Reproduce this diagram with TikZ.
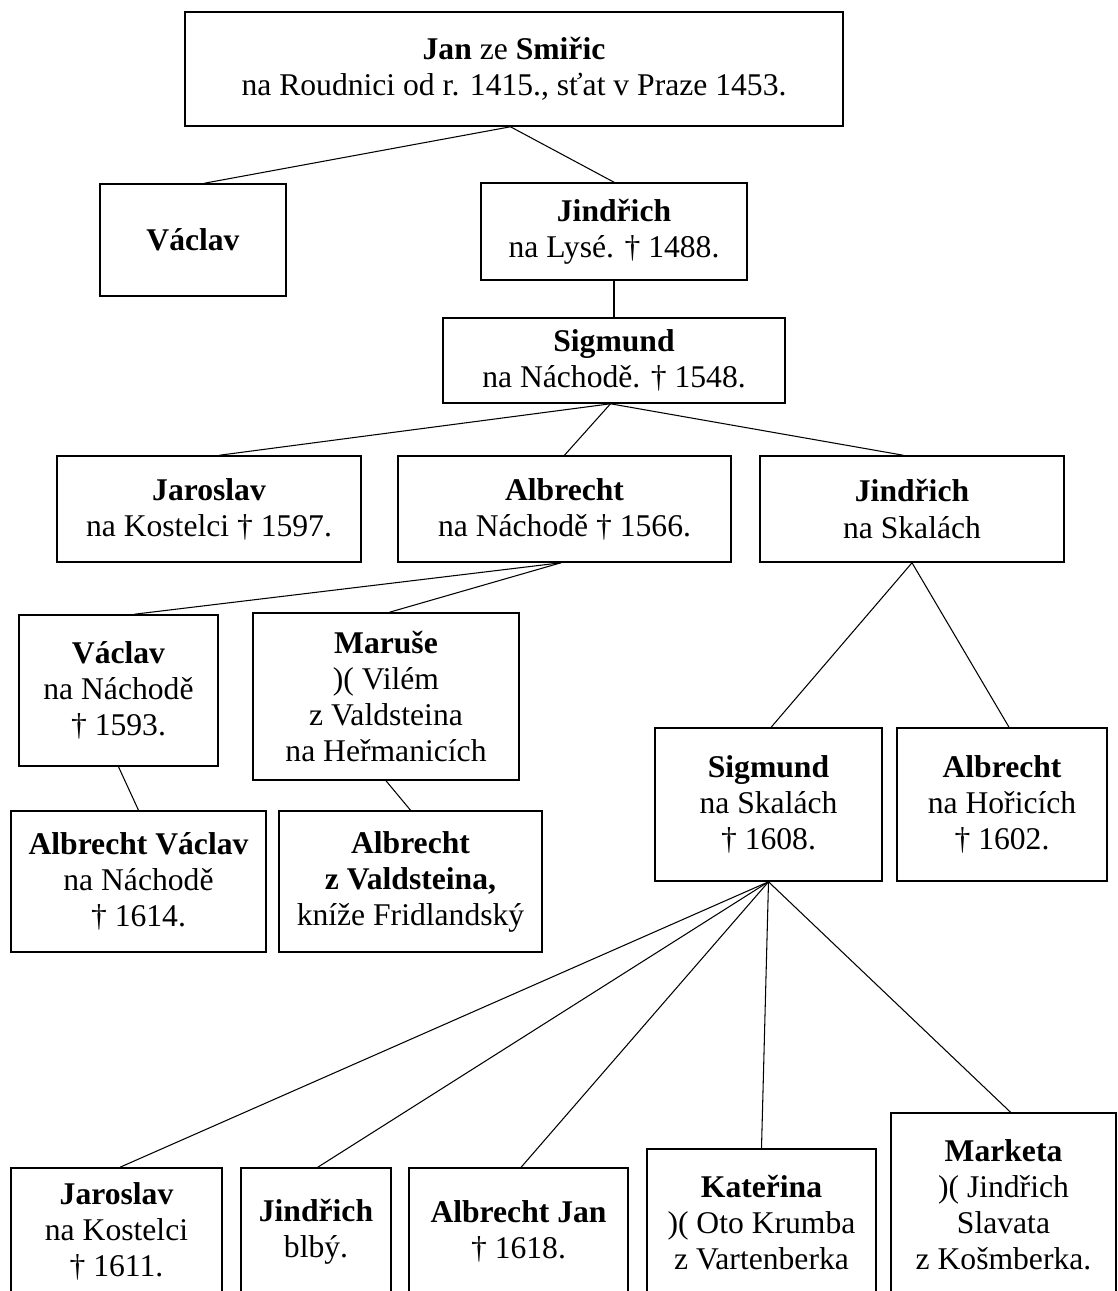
\documentclass[tikz,border=0pt]{standalone}
\usepackage{fontspec}
\setmainfont{Liberation Serif}
\tikzset{
  person/.style={draw, line width=0.9pt, align=center, inner sep=0pt,
    font=\fontsize{18}{20.5}\selectfont},
  kin/.style={line width=0.6pt}
}
\begin{document}
\begin{tikzpicture}[x=0.02cm, y=-0.02cm]
  \useasboundingbox (0,0) rectangle (1118,1291);
  \clip (0,0) rectangle (1118,1291);
  %%gen 1
  \node[person, minimum width=13.16cm, minimum height=2.28cm] (jan) at (514,69)
    {\textbf{Jan} ze \textbf{Smiřic}\\na Roudnici od r. 1415., sťat v Praze 1453.};
  %%gen 2
  \node[person, minimum width=3.72cm, minimum height=2.24cm] (vaclav) at (193,240)
    {\textbf{Václav}};
  \node[person, minimum width=5.32cm, minimum height=1.94cm] (jindrich) at (614,231.5)
    {\textbf{Jindřich}\\na Lysé. † 1488.};
  %%gen 3
  \node[person, minimum width=6.84cm, minimum height=1.70cm] (sigmund) at (614,360.5)
    {\textbf{Sigmund}\\na Náchodě. † 1548.};
  %%gen 4
  \node[person, minimum width=6.08cm, minimum height=2.12cm] (jaroslav) at (209,509)
    {\textbf{Jaroslav}\\na Kostelci † 1597.};
  \node[person, minimum width=6.66cm, minimum height=2.12cm] (albrecht) at (564.5,509)
    {\textbf{Albrecht}\\na Náchodě † 1566.};
  \node[person, minimum width=6.08cm, minimum height=2.12cm] (jindrichS) at (912,509)
    {\textbf{Jindřich}\\na Skalách};
  %%gen 5
  \node[person, minimum width=3.98cm, minimum height=3.02cm] (vaclavN) at (118.5,690.5)
    {\textbf{Václav}\\na Náchodě\\† 1593.};
  \node[person, minimum width=5.32cm, minimum height=3.34cm] (maruse) at (386,696.5)
    {\textbf{Maruše}\\)( Vilém\\z Valdsteina\\na Heřmanicích};
  \node[person, minimum width=4.54cm, minimum height=3.06cm] (sigmundS) at (768.5,804.5)
    {\textbf{Sigmund}\\na Skalách\\† 1608.};
  \node[person, minimum width=4.20cm, minimum height=3.06cm] (albHorice) at (1002,804.5)
    {\textbf{Albrecht}\\na Hořicích\\† 1602.};
  %%gen 6
  \node[person, minimum width=5.10cm, minimum height=2.82cm] (albVaclav) at (138.5,881.5)
    {\textbf{Albrecht Václav}\\na Náchodě\\† 1614.};
  \node[person, minimum width=5.26cm, minimum height=2.82cm] (albValdstein) at (410.5,881.5)
    {\textbf{Albrecht}\\\textbf{z Valdsteina,}\\kníže Fridlandský};
  %%gen 6, na Skalach
  \node[person, minimum width=4.22cm, minimum height=2.54cm] (jaroslavK) at (116.5,1231.5)
    {\textbf{Jaroslav}\\na Kostelci\\† 1611.};
  \node[person, minimum width=3.00cm, minimum height=2.54cm] (jindrichB) at (316,1231.5)
    {\textbf{Jindřich}\\blbý.};
  \node[person, minimum width=4.38cm, minimum height=2.54cm] (albJan) at (518.5,1231.5)
    {\textbf{Albrecht Jan}\\† 1618.};
  \node[person, minimum width=4.58cm, minimum height=2.96cm] (katerina) at (761.5,1223)
    {\textbf{Kateřina}\\)( Oto Krumba\\z Vartenberka};
  \node[person, minimum width=4.50cm, minimum height=3.66cm] (marketa) at (1003.5,1204.5)
    {\textbf{Marketa}\\)( Jindřich\\Slavata\\z Košmberka.};

  %%lines
  \draw[kin] ([xshift=-2pt]jan.south) to ([xshift=6.5pt]vaclav.north);
  \draw[kin] ([xshift=-2pt]jan.south) to (jindrich.north);
  \draw[kin] (jindrich.south) to (sigmund.north);
  \draw[kin] ([xshift=-2pt]sigmund.south) to ([xshift=6pt]jaroslav.north);
  \draw[kin] ([xshift=-2pt]sigmund.south) to (albrecht.north);
  \draw[kin] ([xshift=-2pt]sigmund.south) to ([xshift=-5pt]jindrichS.north);
  \draw[kin] ([xshift=-2pt]albrecht.south) to ([xshift=9pt]vaclavN.north);
  \draw[kin] ([xshift=-2pt]albrecht.south) to ([xshift=2pt]maruse.north);
  \draw[kin] (vaclavN.south) to (albVaclav.north);
  \draw[kin] (maruse.south) to (albValdstein.north);
  \draw[kin] (jindrichS.south) to ([xshift=1.5pt]sigmundS.north);
  \draw[kin] (jindrichS.south) to ([xshift=4pt]albHorice.north);
  \draw[kin] (sigmundS.south) to ([xshift=2pt]jaroslavK.north);
  \draw[kin] (sigmundS.south) to ([xshift=1pt]jindrichB.north);
  \draw[kin] (sigmundS.south) to ([xshift=1.5pt]albJan.north);
  \draw[kin] (sigmundS.south) to (katerina.north);
  \draw[kin] (sigmundS.south) to ([xshift=4pt]marketa.north);
\end{tikzpicture}
\end{document}
